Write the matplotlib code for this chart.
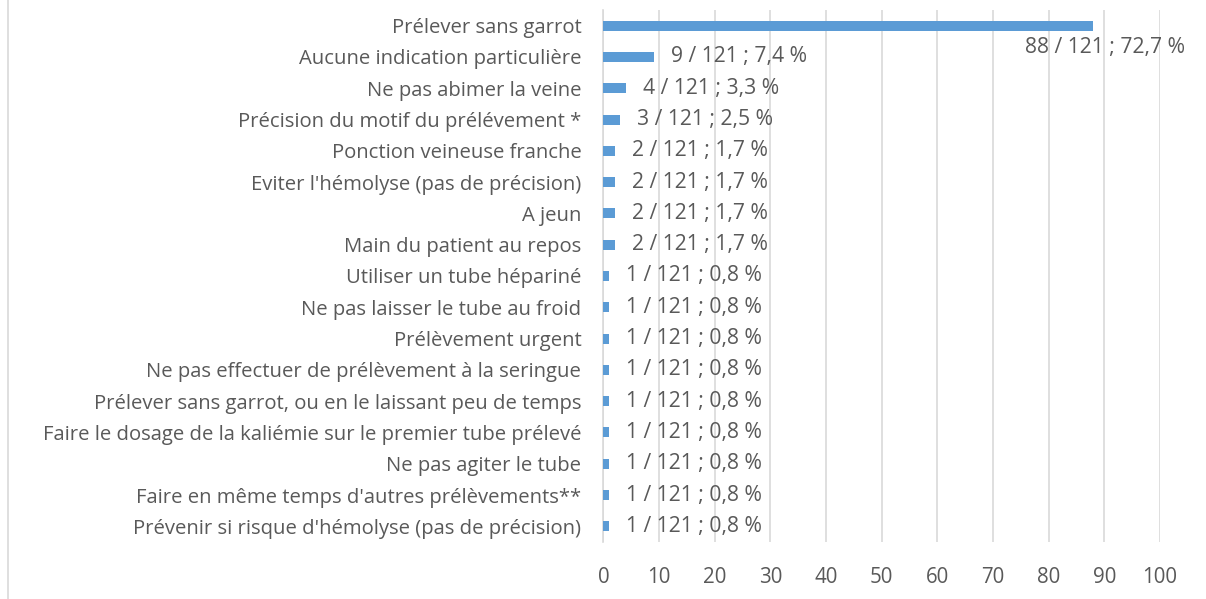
import matplotlib
matplotlib.use("Agg")
import matplotlib.pyplot as plt
from matplotlib.lines import Line2D

categories = [
    "Prélever sans garrot",
    "Aucune indication particulière",
    "Ne pas abimer la veine",
    "Précision du motif du prélévement *",
    "Ponction veineuse franche",
    "Eviter l'hémolyse (pas de précision)",
    "A jeun",
    "Main du patient au repos",
    "Utiliser un tube hépariné",
    "Ne pas laisser le tube au froid",
    "Prélèvement urgent",
    "Ne pas effectuer de prélèvement à la seringue",
    "Prélever sans garrot, ou en le laissant peu de temps",
    "Faire le dosage de la kaliémie sur le premier tube prélevé",
    "Ne pas agiter le tube",
    "Faire en même temps d'autres prélèvements**",
    "Prévenir si risque d'hémolyse (pas de précision)",
]
counts = [88, 9, 4, 3, 2, 2, 2, 2, 1, 1, 1, 1, 1, 1, 1, 1, 1]
total = 121
percents = ["72,7", "7,4", "3,3", "2,5", "1,7", "1,7", "1,7", "1,7",
            "0,8", "0,8", "0,8", "0,8", "0,8", "0,8", "0,8", "0,8", "0,8"]
xticks = list(range(0, 101, 10))

plt.rcParams['font.family'] = ['Open Sans', 'DejaVu Sans']
txt = '#595959'
fig = plt.figure(figsize=(12.06, 5.99), dpi=100)
ax = fig.add_axes([0.5004, 0.0952, 0.9619 - 0.5004, 0.9833 - 0.0952])

n = len(categories)
ypos = list(range(n))
ax.barh(ypos, counts, height=0.32, color='#5B9BD5', zorder=3)
ax.set_ylim(n - 0.5, -0.5)
ax.set_xlim(0, 100)
ax.set_xticks(xticks)
ax.set_yticks(ypos)
ax.set_yticklabels(categories, fontsize=14.6, color=txt)
ax.tick_params(axis='y', length=0, pad=16)
ax.tick_params(axis='x', length=0, pad=18, labelsize=14.8, labelcolor=txt)
ax.grid(axis='x', color='#D9D9D9', linewidth=1.2, zorder=0)
for s in ['top', 'right', 'bottom']:
    ax.spines[s].set_visible(False)
ax.spines['left'].set_color('#D9D9D9')
ax.spines['left'].set_linewidth(1.2)

for i, (c, p) in enumerate(zip(counts, percents)):
    label = f"{c} / {total} ; {p} %"
    if i == 0:
        ax.annotate(label, (c, i), xytext=(8.3, -15.8), textcoords='offset points',
                    ha='center', va='center', fontsize=15.2, color=txt)
    else:
        ax.annotate(label, (c, i), xytext=(12.2, 0), textcoords='offset points',
                    ha='left', va='center', fontsize=15.2, color=txt)

fig.add_artist(Line2D([8/1206, 8/1206], [0, 1], color='#D9D9D9', linewidth=1.2,
                      transform=fig.transFigure))
fig.savefig("out.png", dpi=100, facecolor='white')
